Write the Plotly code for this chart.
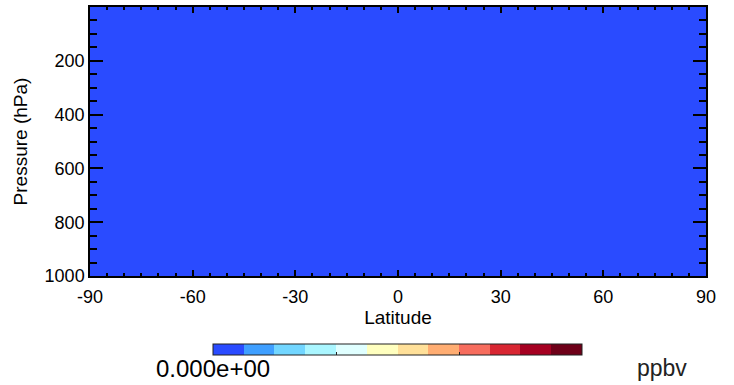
import plotly.graph_objects as go

# Data (cell edges and values: uniform field of zero)
lat_edges = [-90, -60, -30, 0, 30, 60, 90]
pres_edges = [0, 200, 400, 600, 800, 1000]
values = [
    [0, 0, 0, 0, 0, 0],
    [0, 0, 0, 0, 0, 0],
    [0, 0, 0, 0, 0, 0],
    [0, 0, 0, 0, 0, 0],
    [0, 0, 0, 0, 0, 0],
]
x_ticks = [-90, -60, -30, 0, 30, 60, 90]
x_tick_labels = ["-90", "-60", "-30", "0", "30", "60", "90"]
y_ticks = [200, 400, 600, 800, 1000]
y_tick_labels = ["200", "400", "600", "800", "1000"]
cbar_label = "0.000e+00"
units = "ppbv"

colors = ["#2a4bff", "#3f9fff", "#72d6ff", "#aaf6ff", "#e0ffff", "#ffffbf",
          "#ffe099", "#ffad72", "#f76d5e", "#d82632", "#a50021", "#6e0018"]
n = len(colors)
cs = []
for i, c in enumerate(colors):
    cs.append([i / n, c])
    cs.append([(i + 1) / n, c])

FONT = "Liberation Sans, Arial, Helvetica, sans-serif"

# plot area in pixels
L, R, T, B = 90, 706, 7, 276
W, H = R - L, B - T

fig = go.Figure(go.Heatmap(
    x=lat_edges, y=pres_edges, z=values,
    colorscale=cs, zmin=0, zmax=1, zsmooth=False,
    colorbar=dict(
        orientation="h", x=(213 - L) / W, xanchor="left", xpad=0,
        y=(B - 344) / H, yanchor="top", ypad=0,
        len=369, lenmode="pixels", thickness=11, thicknessmode="pixels",
        outlinewidth=1, outlinecolor="#222",
        tickmode="array", tickvals=[4 / 12, 8 / 12],
        ticktext=["", ""],
        ticks="inside", ticklen=3, tickcolor="#222",
        tickfont=dict(size=10, color="black", family=FONT),
    ),
    hoverinfo="skip",
))

axis_common = dict(
    showline=True, linecolor="black", linewidth=1.5, mirror="ticks",
    ticks="inside", tickcolor="black", showgrid=False, zeroline=False,
    tickfont=dict(size=18, color="black", family=FONT),
)

fig.update_xaxes(
    range=[-90, 90], tickvals=x_ticks, ticktext=x_tick_labels, ticklen=6, tickwidth=1.5,
    ticklabelstandoff=4,
    minor=dict(ticks="inside", ticklen=3, dtick=5, tickcolor="black", showgrid=False),
    title=dict(text="Latitude", font=dict(size=19, color="black", family=FONT), standoff=2),
    **axis_common,
)
fig.update_yaxes(
    range=[1000, 0], tickvals=y_ticks, ticktext=y_tick_labels, ticklen=13, tickwidth=1.5,
    minor=dict(ticks="inside", ticklen=7, dtick=50, tickcolor="black", showgrid=False),
    title=dict(text="Pressure (hPa)", font=dict(size=19, color="black", family=FONT), standoff=12),
    **axis_common,
)

# colorbar min label
fig.add_annotation(
    text=cbar_label, x=(213 - L) / W, y=(B - 368) / H, xref="paper", yref="paper",
    showarrow=False, xanchor="center", yanchor="middle",
    font=dict(size=24, color="black", family=FONT),
)
# units
fig.add_annotation(
    text=units, x=(662 - L) / W, y=(B - 368) / H, xref="paper", yref="paper",
    showarrow=False, xanchor="center", yanchor="middle",
    font=dict(size=23, color="#222", family=FONT),
)

fig.update_layout(
    width=734, height=385,
    margin=dict(l=L, r=734 - R, t=T, b=385 - B, autoexpand=False),
    paper_bgcolor="white", plot_bgcolor="white",
    font=dict(family=FONT, color="black"),
)

fig.write_html("out.html", config={"displayModeBar": False},
               post_script="document.body.style.margin='0px';")
